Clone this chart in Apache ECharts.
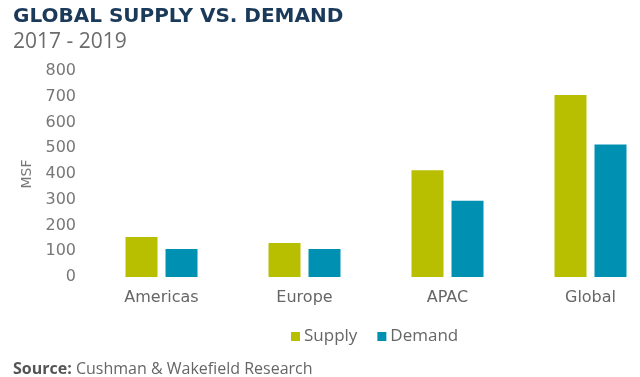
<!DOCTYPE html>
<html>
<head>
<meta charset="utf-8">
<script src="https://cdn.jsdelivr.net/npm/echarts@6/dist/echarts.min.js"></script>
<style>
  html, body { margin: 0; padding: 0; background: #fff; }
  #chart { width: 640px; height: 377px; }
</style>
</head>
<body>
<div id="chart"></div>
<script>
// 数据
const categories = ['Americas', 'Europe', 'APAC', 'Global'];
const supply = [155, 132, 415, 707];
const demand = [109, 109, 296, 515];
const yTicks = { min: 0, max: 800, interval: 100 };

const chart = echarts.init(document.getElementById('chart'));
const font = '"DejaVu Sans", sans-serif';
const sans = '"Open Sans", sans-serif';
chart.setOption({
  animation: false,
  title: [
    {
      text: 'GLOBAL SUPPLY VS. DEMAND',
      subtext: '2017 - 2019',
      left: 8, top: 2, itemGap: 5,
      textStyle: { fontFamily: font, fontSize: 20, fontWeight: 'bold', color: '#1b3a5a' },
      subtextStyle: { fontFamily: sans, fontSize: 21, color: '#6b6b6b' }
    },
    {
      text: '{b|Source:} Cushman & Wakefield Research',
      left: 8, top: 356,
      textStyle: {
        fontFamily: sans, fontSize: 16, fontWeight: 'normal', color: '#666',
        rich: { b: { fontFamily: sans, fontSize: 16, fontWeight: 'bold', color: '#555' } }
      }
    }
  ],
  legend: {
    top: 323, left: 286,
    itemWidth: 9, itemHeight: 9, itemGap: 20,
    icon: 'rect',
    textStyle: { fontFamily: sans, fontSize: 17, color: '#666', padding: [0, 0, 0, -1] },
    data: ['Supply', 'Demand']
  },
  grid: { left: 90, top: 71, width: 572, height: 206, outerBoundsMode: 'none' },
  xAxis: {
    type: 'category',
    data: categories,
    axisLine: { show: false },
    axisTick: { show: false },
    axisLabel: { fontFamily: font, fontSize: 16, color: '#666', margin: 13 }
  },
  yAxis: {
    type: 'value',
    min: yTicks.min, max: yTicks.max, interval: yTicks.interval,
    name: 'MSF', nameLocation: 'middle', nameGap: 55,
    nameTextStyle: { fontFamily: font, fontSize: 14, color: '#777' },
    splitLine: { show: false },
    axisLine: { show: false },
    axisLabel: { fontFamily: font, fontSize: 16, color: '#777', margin: 14 }
  },
  series: [
    { name: 'Supply', type: 'bar', data: supply, barWidth: 32, barGap: '25%', itemStyle: { color: '#b8bf00' } },
    { name: 'Demand', type: 'bar', data: demand, barWidth: 32, itemStyle: { color: '#0091b2' } }
  ]
});
</script>
</body>
</html>
